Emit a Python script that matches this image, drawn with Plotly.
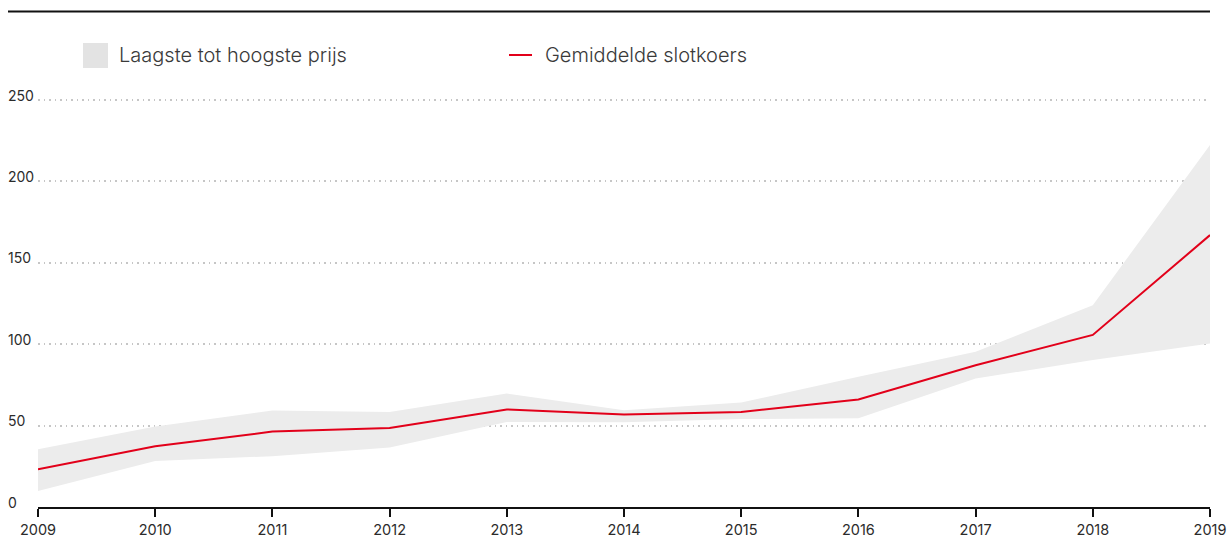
import plotly.graph_objects as go

# Jaarcijfers aandeelkoers
years = [2009, 2010, 2011, 2012, 2013, 2014, 2015, 2016, 2017, 2018, 2019]
laagste = [9.8, 28.3, 31.2, 36.5, 52.2, 52.0, 54.0, 54.5, 78.9, 90.3, 100.4]
hoogste = [35.5, 49.5, 59.2, 58.4, 69.7, 59.4, 64.2, 80.0, 95.3, 124.0, 222.3]
gemiddelde = [23.2, 37.3, 46.3, 48.6, 59.9, 56.8, 58.4, 66.0, 87.1, 105.7, 167.0]

y_ticks = [0, 50, 100, 150, 200, 250]
x_ticks = years

FONT = "Inter"
TEXT = "#2b2b2b"
LEGEND_TEXT = "#3a3a3a"
RED = "#e2001a"
BAND = "#ececec"

fig = go.Figure()

# Bandbreedte: laagste tot hoogste prijs
fig.add_trace(go.Scatter(x=years, y=laagste, mode="lines", line=dict(width=0),
                         hoverinfo="skip", showlegend=False))
fig.add_trace(go.Scatter(x=years, y=hoogste, mode="lines", line=dict(width=0),
                         fill="tonexty", fillcolor=BAND, showlegend=False))
# Gemiddelde slotkoers
fig.add_trace(go.Scatter(x=years, y=gemiddelde, mode="lines",
                         line=dict(color=RED, width=2), showlegend=False))

# iets ruimte boven 250 zodat de bovenste rasterlijn zichtbaar blijft
L, R, T, B = 38, 19, 96, 33
W, H = 1229, 540
pw, ph = W - L - R, H - T - B
y_top = 250 * ph / (ph - (100 - T))


def px(xp):
    return (xp - L) / pw


def py(yp):
    return (H - B - yp) / ph


shapes = [
    # lijn bovenaan
    dict(type="line", xref="paper", yref="paper", x0=px(8), x1=1, y0=py(11.5), y1=py(11.5),
         line=dict(color="#111111", width=2)),
    # legenda: vlak
    dict(type="rect", xref="paper", yref="paper", x0=px(83), x1=px(108), y0=py(68), y1=py(43),
         fillcolor="#e3e3e3", line=dict(width=0)),
    # legenda: lijn
    dict(type="line", xref="paper", yref="paper", x0=px(509), x1=px(532), y0=py(55), y1=py(55),
         line=dict(color=RED, width=2)),
]

annotations = [
    dict(xref="paper", yref="paper", x=px(117), y=py(55), text="Laagste tot hoogste prijs",
         showarrow=False, xanchor="left", yanchor="middle",
         font=dict(family=FONT, size=20, color=LEGEND_TEXT, weight=300)),
    dict(xref="paper", yref="paper", x=px(543), y=py(55), text="Gemiddelde slotkoers",
         showarrow=False, xanchor="left", yanchor="middle",
         font=dict(family=FONT, size=20, color=LEGEND_TEXT, weight=300)),
]
for v in y_ticks:
    annotations.append(dict(xref="paper", yref="y", x=px(6), y=v, text=str(v), showarrow=False,
                            xanchor="left", yanchor="middle", yshift=5,
                            font=dict(family=FONT, size=14, color=TEXT)))

fig.update_layout(
    width=W, height=H,
    margin=dict(l=L, r=R, t=T, b=B, autoexpand=False),
    paper_bgcolor="white", plot_bgcolor="white",
    shapes=shapes, annotations=annotations,
    showlegend=False,
    xaxis=dict(range=[2009, 2019], tickvals=x_ticks, ticktext=[str(y) for y in x_ticks],
               automargin=False, ticklabelstandoff=1,
               showgrid=False, zeroline=False, showline=True, linecolor="#111111", linewidth=2,
               ticks="outside", ticklen=8, tickwidth=2, tickcolor="#111111",
               tickfont=dict(family=FONT, size=14.5, color=TEXT)),
    yaxis=dict(range=[0, y_top], tickvals=y_ticks[1:], showticklabels=False, automargin=False,
               showgrid=True, gridcolor="#c6c6c6", griddash="1.5px,4px", gridwidth=1.5,
               zeroline=False, showline=False),
)

fig.write_html("out.html")
